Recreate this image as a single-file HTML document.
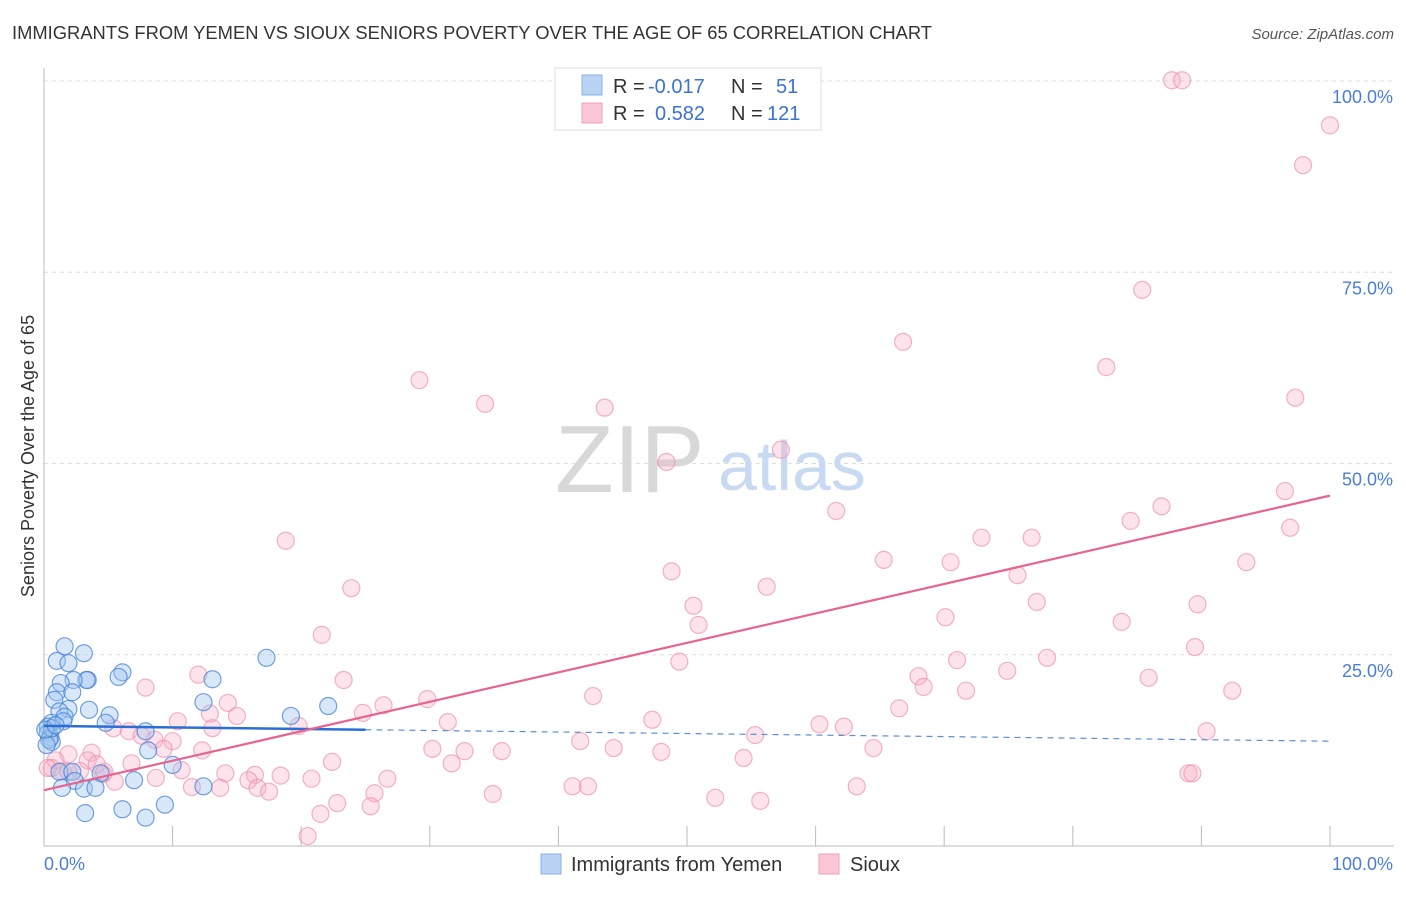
<!DOCTYPE html>
<html><head><meta charset="utf-8"><style>
body{margin:0;background:#fff;font-family:"Liberation Sans",sans-serif;}
svg text{font-family:"Liberation Sans",sans-serif;}
</style></head><body>
<svg id="chart" width="1406" height="892" xmlns="http://www.w3.org/2000/svg">
<text x="12" y="39" font-size="18" fill="#333" textLength="920" lengthAdjust="spacingAndGlyphs">IMMIGRANTS FROM YEMEN VS SIOUX SENIORS POVERTY OVER THE AGE OF 65 CORRELATION CHART</text>
<text x="1394" y="39" font-size="15" fill="#555" font-style="italic" text-anchor="end">Source: ZipAtlas.com</text>
<g id="grid"></g>
<g>
<text x="555" y="492" font-size="96" fill="#d8d8d8" font-family="Liberation Serif,serif">ZIP</text>
<text x="718" y="490" font-size="70" fill="#c7daf2">atlas</text>
</g>
<line x1="44" y1="68" x2="44" y2="846" stroke="#bbb"/>
<line x1="44" y1="846" x2="1394" y2="846" stroke="#bbb"/>
<g id="xticks"></g>
<g id="ylabels"></g>
<text x="44" y="870" font-size="18" fill="#4a7fd4">0.0%</text>
<text x="1393" y="870" font-size="18" fill="#4a7fd4" text-anchor="end">100.0%</text>
<text transform="translate(34,456) rotate(-90)" font-size="18" fill="#333" text-anchor="middle">Seniors Poverty Over the Age of 65</text>
<g id="pinkpts"></g>
<g id="bluepts"></g>
<g id="lines"></g>
<g>
<rect x="555" y="68" width="266" height="62" fill="#fff" stroke="#ddd"/>
<rect x="582" y="75" width="20" height="20" fill="#b9d3f5" stroke="#8ab2e8"/>
<rect x="582" y="103" width="20" height="20" fill="#fbc6d5" stroke="#f0a0b8"/>
<text x="613" y="93" font-size="20" fill="#333">R = <tspan x="648" fill="#3b73d1">-0.017</tspan><tspan x="731">N = </tspan><tspan x="776" fill="#3b73d1">51</tspan></text>
<text x="613" y="120" font-size="20" fill="#333">R = <tspan x="655" fill="#3b73d1">0.582</tspan><tspan x="731">N = </tspan><tspan x="767" fill="#3b73d1">121</tspan></text>
</g>
<g>
<rect x="541" y="854" width="20" height="20" fill="#b9d3f5" stroke="#8ab2e8"/>
<text x="571" y="871" font-size="20" fill="#333">Immigrants from Yemen</text>
<rect x="819" y="854" width="20" height="20" fill="#fbc6d5" stroke="#f0a0b8"/>
<text x="850" y="871" font-size="20" fill="#333">Sioux</text>
</g>
</svg>
<script>
const yTicks=[25,50,75,100];
const yTickLabels=["25.0%","50.0%","75.0%","100.0%"];
const xTicks=[10,20,30,40,50,60,70,80,90,100];
const yemenX=[1.6,1.0,1.9,3.1,3.4,3.3,2.3,1.3,1.0,2.2,0.8,1.9,3.5,1.2,1.6,0.6,1.5,6.1,5.8,13.1,17.3,12.4,5.1,4.8,7.9,8.1,10.0,22.1,19.2,0.3,0.3,0.5,0.6,0.4,0.2,0.6,1.2,2.2,2.4,4.4,1.4,3.1,4.0,7.0,12.4,3.2,6.1,7.9,9.4,0.1,0.9];
const yemenY=[26.1,24.2,23.9,25.2,21.7,21.7,21.7,21.3,20.1,20.1,19.1,17.9,17.8,17.6,16.9,16.1,16.3,22.7,22.1,21.8,24.6,18.8,17.1,16.1,15.0,12.5,10.6,18.3,17.0,15.6,14.8,14.2,13.6,13.9,13.2,15.4,9.7,9.7,8.5,9.5,7.6,7.5,7.6,8.6,7.8,4.3,4.8,3.7,5.4,15.2,15.8];
const siouxX=[87.7,88.5,100,97.9,85.4,82.6,66.8,29.2,34.3,43.6,97.3,57.3,48.4,61.6,96.5,86.9,84.5,96.9,18.8,72.9,76.8,65.3,70.5,93.5,48.8,75.7,23.9,56.2,50.5,77.2,89.7,70.1,50.9,83.8,21.6,89.5,71.0,78.0,49.4,68.0,74.9,12.0,7.9,23.3,85.9,68.4,71.7,92.4,42.7,29.8,14.3,26.4,66.5,15.0,12.9,10.4,24.8,31.4,47.3,60.3,62.2,19.8,5.4,6.6,7.6,13.1,8.6,10.0,90.4,55.3,41.7,30.2,12.3,9.3,3.7,44.3,32.7,35.6,48.0,64.5,1.9,0.9,3.4,6.8,54.4,22.4,31.7,2.8,4.6,1.4,0.6,10.7,14.1,16.4,18.4,20.8,89.0,89.3,26.7,4.7,15.9,16.6,17.5,11.5,13.7,25.7,34.9,41.1,42.3,63.2,22.8,25.4,52.2,55.7,21.5,20.5,8.7,5.5,1.9,0.3,4.1];
const siouxY=[100.1,100.1,94.2,89.0,72.7,62.6,65.9,60.9,57.8,57.3,58.6,51.8,50.2,43.8,46.4,44.4,42.5,41.6,39.9,40.3,40.3,37.4,37.1,37.1,35.9,35.4,33.7,33.9,31.4,31.9,31.6,29.9,28.9,29.3,27.6,26.0,24.3,24.6,24.1,22.2,22.9,22.4,20.7,21.7,22.0,20.8,20.3,20.3,19.6,19.2,18.7,18.4,18.0,17.0,17.3,16.3,17.4,16.2,16.5,15.9,15.6,15.7,15.4,15.0,14.4,15.4,13.9,13.7,15.0,14.5,13.7,12.7,12.5,12.7,12.2,12.8,12.4,12.4,12.3,12.8,12.0,11.2,11.2,10.8,11.5,11.0,10.8,9.8,9.4,9.8,10.2,9.9,9.5,9.3,9.2,8.8,9.5,9.5,8.8,9.7,8.6,7.6,7.1,7.7,7.6,6.9,6.8,7.8,7.8,7.8,5.6,5.2,6.3,5.9,4.2,1.3,8.9,8.4,9.7,10.2,10.7];
const yemenTrend=[[0,15.7],[25,15.2],[100,13.7]];
const siouxTrend=[[0,7.3],[100,45.8]];
const NS="http://www.w3.org/2000/svg";
const sx=v=>44+v*12.86;
const sy=v=>846-v*7.65;
function mk(tag,attrs,parent){const e=document.createElementNS(NS,tag);for(const k in attrs)e.setAttribute(k,attrs[k]);document.getElementById(parent).appendChild(e);return e;}
yTicks.forEach((t,i)=>{
 const l=mk('line',{x1:44,x2:1394,y1:sy(t),y2:sy(t),stroke:'#ddd','stroke-dasharray':'4,4'},'grid');
 
 
 const tx=mk('text',{x:1393,y:sy(t)+22,'font-size':18,fill:'#4a7fd4','text-anchor':'end'},'ylabels');
 tx.textContent=yTickLabels[i];
 
 
});
xTicks.forEach(t=>{
 const l=mk('line',{x1:sx(t),x2:sx(t),y1:826,y2:846,stroke:'#bbb'},'xticks');
 
 
});
siouxX.forEach((x,i)=>{
 const c=mk('circle',{cx:sx(x),cy:sy(siouxY[i]),r:8.5,fill:'rgba(248,175,198,0.35)',stroke:'rgba(236,140,170,0.65)','stroke-width':1.2},'pinkpts');
 
 
});
yemenX.forEach((x,i)=>{
 const c=mk('circle',{cx:sx(x),cy:sy(yemenY[i]),r:8.5,fill:'rgba(160,198,240,0.4)',stroke:'rgba(70,130,215,0.75)','stroke-width':1.2},'bluepts');
 
 
});
let l1=mk('line',{x1:sx(yemenTrend[1][0]),y1:sy(yemenTrend[1][1]),x2:sx(yemenTrend[2][0]),y2:sy(yemenTrend[2][1]),stroke:'#5a8fd8','stroke-width':1.2,'stroke-dasharray':'6,5'},'lines');


let l2=mk('line',{x1:sx(yemenTrend[0][0]),y1:sy(yemenTrend[0][1]),x2:sx(yemenTrend[1][0]),y2:sy(yemenTrend[1][1]),stroke:'#2a6fd6','stroke-width':2.5},'lines');


let l3=mk('line',{x1:sx(siouxTrend[0][0]),y1:sy(siouxTrend[0][1]),x2:sx(siouxTrend[1][0]),y2:sy(siouxTrend[1][1]),stroke:'#e8648f','stroke-width':2.2},'lines');


</script>
</body></html>
